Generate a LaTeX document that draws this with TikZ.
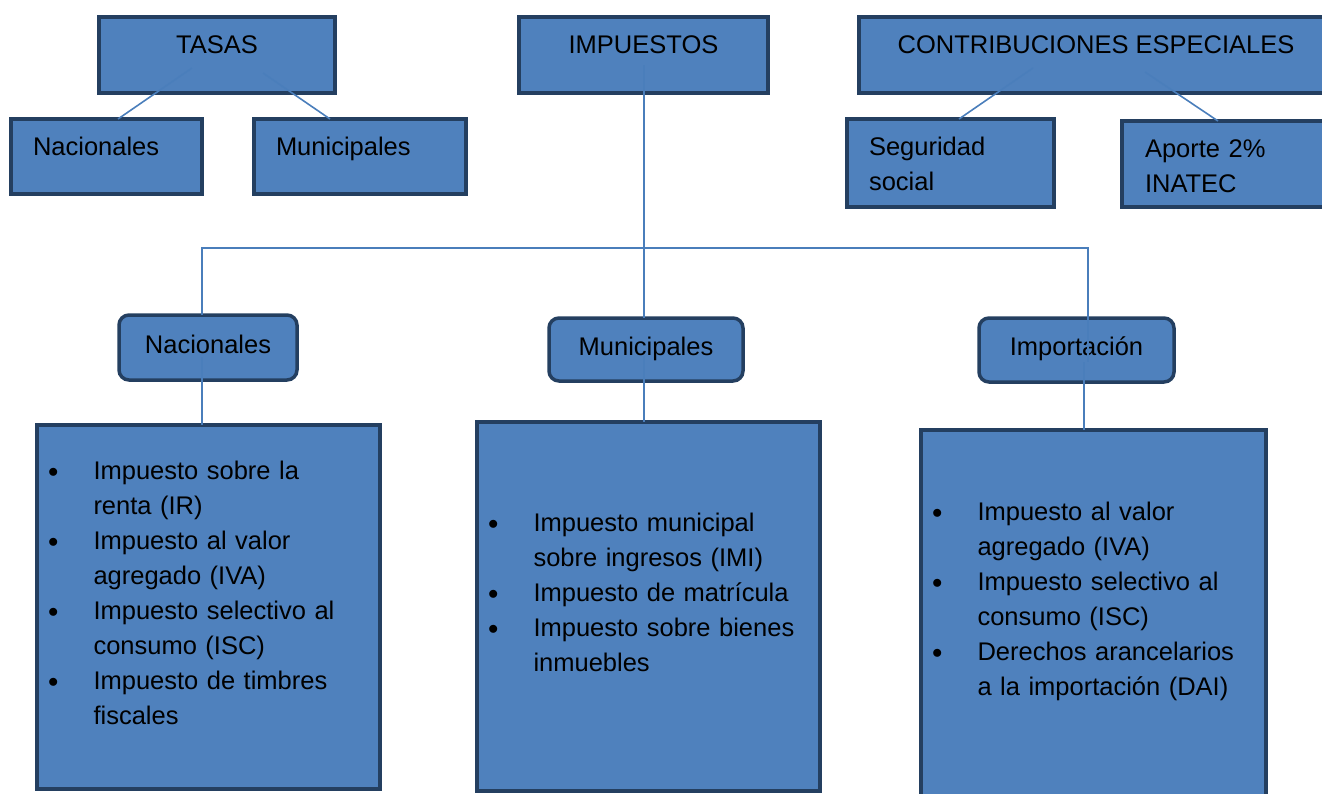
\documentclass[tikz,border=0pt]{standalone}
\usepackage{fontspec}
\setmainfont{Liberation Sans}

\definecolor{boxfill}{HTML}{4F81BD}
\definecolor{boxline}{HTML}{243F60}
\definecolor{linkcol}{HTML}{4A7EBB}

\newcommand{\taxlist}[1]{\begin{tabular}[t]{@{}p{45.5pt}@{}l@{}}#1\end{tabular}}
\newcommand{\taxdot}{\raisebox{1.2pt}{\fontsize{21}{35}\selectfont$\bullet$}}

\begin{document}
\begin{tikzpicture}[x=1pt, y=-1pt,
        box/.style={draw=boxline, fill=boxfill, line width=3.5pt, outer sep=0pt,
            inner ysep=0pt, anchor=north west, font=\fontsize{25.5}{35}\selectfont},
        headbox/.style={box, minimum width=#1, text height=36pt, text depth=40pt},
        subbox/.style={box, align=left, inner xsep=22pt, text width=#1, text height=36pt},
        kindbox/.style={box, rounded corners=10pt, minimum width=#1},
        listbox/.style={box, align=left, inner xsep=11pt, text width=#1},
        link/.style={draw=linkcol, line width=1.6pt}]
    \useasboundingbox (0,0) rectangle (1322,793);

    \node[headbox=236pt] (tasas) at (99,17) {TASAS};
    \node[headbox=249pt] (impuestos) at (519,17) {IMPUESTOS};
    \node[headbox=474pt] (contrib) at (859,17) {CONTRIBUCIONES ESPECIALES};

    \node[subbox=147pt, text depth=39pt] (tnac) at (11,119) {Nacionales};
    \node[subbox=168pt, text depth=39pt] (tmun) at (254,119) {Municipales};
    \node[subbox=163pt, text depth=52pt] (cseg) at (847,119) {Seguridad\\social};
    \node[subbox=167pt, inner xsep=23pt, text depth=50pt] (capo) at (1122,121) {Aporte 2\%\\INATEC};

    \node[kindbox=178pt, text height=38pt, text depth=27pt] (rnac) at (119,315) {Nacionales};
    \node[kindbox=194pt, text height=37pt, text depth=26pt] (rmun) at (549,318) {Municipales};
    \node[kindbox=195pt, text height=37pt, text depth=27pt] (rimp) at (979,318) {Importación};

    \node[listbox=321pt, text height=54pt, text depth=310pt] (bnac) at (37,425) {\taxlist{
        \taxdot & Impuesto sobre la\\ & renta (IR)\\
        \taxdot & Impuesto al valor\\ & agregado (IVA)\\
        \taxdot & Impuesto selectivo al\\ & consumo (ISC)\\
        \taxdot & Impuesto de timbres\\ & fiscales}};
    \node[listbox=321pt, text height=109pt, text depth=260pt] (bmun) at (477,422) {\taxlist{
        \taxdot & Impuesto municipal\\ & sobre ingresos (IMI)\\
        \taxdot & Impuesto de matrícula\\
        \taxdot & Impuesto sobre bienes\\ & inmuebles}};
    \node[listbox=323pt, text height=90pt, text depth=280pt] (bimp) at (921,430) {\taxlist{
        \taxdot & Impuesto al valor\\ & agregado (IVA)\\
        \taxdot & Impuesto selectivo al\\ & consumo (ISC)\\
        \taxdot & Derechos arancelarios\\ & a la importación (DAI)}};

    \draw[link] ([xshift=-25pt,yshift=-13pt]tasas.center) -- ([xshift=11.5pt]tnac.north);
    \draw[link] ([xshift=46pt,yshift=-18pt]tasas.center) -- ([xshift=-30pt]tmun.north);
    \draw[link] ([xshift=-63pt,yshift=-13pt]contrib.center) -- ([xshift=8.5pt]cseg.north);
    \draw[link] ([xshift=49pt,yshift=-17pt]contrib.center) -- ([xshift=-10.5pt]capo.north);

    \coordinate (busl) at (202,248);
    \coordinate (busr) at (1088,248);
    \coordinate (impmid) at ([xshift=0.5pt]impuestos.center);
    \coordinate (nacout) at ([yshift=-9.5pt]rnac.center);
    \coordinate (munout) at ([yshift=-6pt]rmun.center);
    \coordinate (impout) at ([xshift=7.5pt,yshift=-12pt]rimp.center);

    \draw[link] ([yshift=-10pt]impmid) -- (impmid |- rmun.north);
    \draw[link] (busl |- rnac.north) -- (busl) -- (busr) -- (busr |- impout);
    \draw[link] (busl |- nacout) -- (busl |- bnac.north);
    \draw[link] (impmid |- munout) -- (impmid |- bmun.north);
    \draw[link] (impout) -- (impout |- bimp.north);
\end{tikzpicture}
\end{document}
